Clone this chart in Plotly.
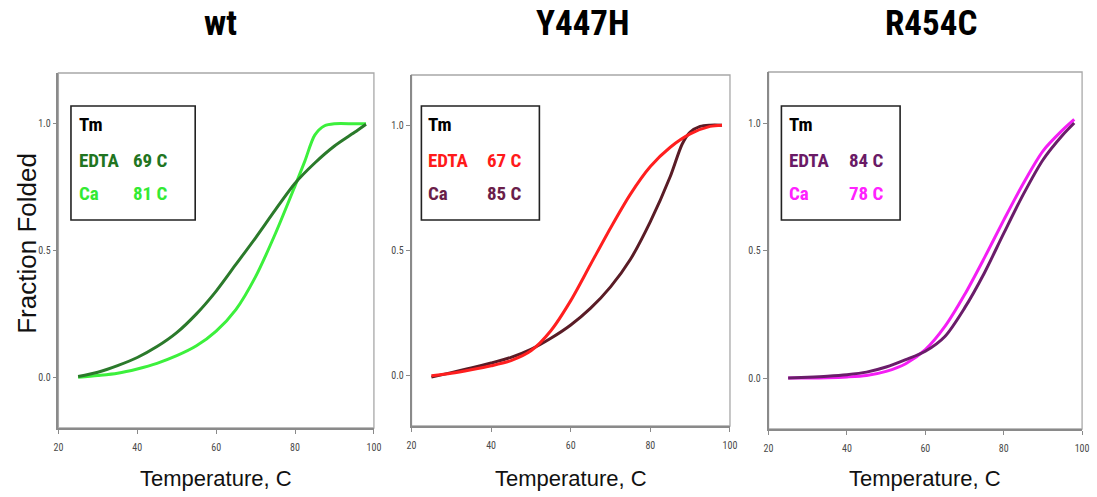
import plotly.graph_objects as go

# ---------------- data ----------------
panel_titles = ["wt", "Y447H", "R454C"]
x_tick_vals = [20, 40, 60, 80, 100]
x_tick_text = ["20", "40", "60", "80", "100"]
y_tick_vals = [0.0, 0.5, 1.0]
y_tick_text = ["0.0", "0.5", "1.0"]

# wt
wt_edta_T = [25, 30, 35, 40, 45, 50, 55, 60, 65, 70, 75, 80, 85, 90, 95, 98]
wt_edta = [0.003, 0.020, 0.046, 0.078, 0.121, 0.176, 0.250, 0.340, 0.445, 0.550, 0.660, 0.765,
           0.845, 0.912, 0.965, 0.998]
wt_ca_T = [25, 30, 35, 40, 45, 50, 55, 60, 65, 70, 75, 80, 82.5, 85, 87.5, 90, 95, 98]
wt_ca = [0.0, 0.007, 0.016, 0.033, 0.055, 0.085, 0.124, 0.182, 0.267, 0.397, 0.566, 0.755,
         0.853, 0.955, 0.992, 1.0, 1.0, 1.0]

# Y447H
y447_edta_T = [25, 30, 35, 40, 45, 50, 55, 60, 65, 70, 75, 80, 85, 90, 95, 98]
y447_edta = [0.0, 0.010, 0.024, 0.040, 0.061, 0.100, 0.180, 0.300, 0.445, 0.590, 0.725, 0.835,
             0.912, 0.965, 0.995, 1.0]
y447_ca_T = [25, 30, 35, 40, 45, 50, 55, 60, 65, 70, 75, 80, 85, 88, 90, 92.5, 95, 98]
y447_ca = [-0.005, 0.013, 0.031, 0.051, 0.074, 0.106, 0.150, 0.203, 0.270, 0.355, 0.465, 0.615,
           0.795, 0.925, 0.972, 0.995, 1.0, 1.0]

# R454C
r454_T = [25, 30, 35, 40, 45, 50, 55, 60, 65, 70, 75, 80, 85, 90, 95, 98]
r454_edta = [0.0, 0.003, 0.007, 0.013, 0.023, 0.043, 0.072, 0.105, 0.163, 0.274, 0.410, 0.567,
             0.720, 0.855, 0.952, 1.0]
r454_ca = [0.0, 0.0, 0.001, 0.004, 0.010, 0.026, 0.056, 0.111, 0.202, 0.326, 0.469, 0.619,
           0.763, 0.890, 0.972, 1.014]

legend_labels = ["EDTA", "Ca"]
tm_values = [["69 C", "81 C"], ["67 C", "85 C"], ["84 C", "78 C"]]

# ---------------- styles ----------------
W, H = 1097, 497
NARROW = "Liberation Sans Narrow, Arial Narrow, Roboto Condensed, Liberation Sans, Arial, sans-serif"
REG = "Liberation Sans, Arial, sans-serif"

edta_line = ["#2b7a2b", "#ff1f1f", "#6a1d6a"]
ca_line = ["#3cf03c", "#5a1c26", "#f41ef4"]
edta_text = ["#217521", "#ff1a1a", "#6a1a66"]
ca_text = ["#33ea33", "#6a1e4a", "#ff22ff"]

# panel pixel boxes: (left, right, top, bottom)
boxes = [(54, 373, 73, 428), (411, 733, 75, 426), (772, 1089, 72, 429)]
legend_boxes = [(66.7, 192.3, 106, 220), (421, 540.3, 106, 220), (785, 905, 106, 220)]
label_offsets = [6, 5, 6]
val_offsets = [61, 64, 66]
title_x = [218, 584, 936]


def px(x):
    return x / W


def py(y):
    return 1 - y / H


series = [
    ((wt_edta_T, wt_edta), (wt_ca_T, wt_ca)),
    ((y447_edta_T, y447_edta), (y447_ca_T, y447_ca)),
    ((r454_T, r454_edta), (r454_T, r454_ca)),
]

fig = go.Figure()
layout = dict(
    width=W, height=H, margin=dict(l=0, r=0, t=0, b=0),
    paper_bgcolor="white", plot_bgcolor="white", showlegend=False,
)
annotations = []
shapes = []

for i in range(3):
    sfx = "" if i == 0 else str(i + 1)
    xa, ya = "x" + sfx, "y" + sfx
    (eT, eV), (cT, cV) = series[i]
    fig.add_trace(go.Scatter(x=cT, y=cV, mode="lines", xaxis=xa, yaxis=ya,
                             line=dict(color=ca_line[i], width=3, shape="spline", smoothing=0.8)))
    fig.add_trace(go.Scatter(x=eT, y=eV, mode="lines", xaxis=xa, yaxis=ya,
                             line=dict(color=edta_line[i], width=3, shape="spline", smoothing=0.8)))
    l, r, t, b = boxes[i]
    # light frame (top / right)
    shapes.append(dict(type="rect", xref="paper", yref="paper", layer="below",
                       x0=px(l), x1=px(r), y0=py(b), y1=py(t),
                       line=dict(color="#a8a8a8", width=1.3)))
    axis_common = dict(showline=True, linecolor="#8a8a8a", linewidth=1.5, mirror=False,
                       showgrid=False, zeroline=False, ticks="outside", ticklen=4,
                       tickcolor="#8a8a8a", tickwidth=1,
                       tickfont=dict(family=NARROW, size=10, color="#4a4a4a"))
    layout["xaxis" + sfx] = dict(axis_common, domain=[px(l), px(r)], anchor=ya,
                                 range=[20, 100], tickvals=x_tick_vals, ticktext=x_tick_text,
                                 ticklabelstandoff=5)
    layout["yaxis" + sfx] = dict(axis_common, domain=[py(b), py(t)], anchor=xa,
                                 range=[-0.2, 1.2], tickvals=y_tick_vals, ticktext=y_tick_text)
    # title
    annotations.append(dict(text="<b>%s</b>" % panel_titles[i], x=px(title_x[i]), y=py(24),
                            xref="paper", yref="paper", showarrow=False,
                            xanchor="center", yanchor="middle",
                            font=dict(family=NARROW, size=35, color="black")))
    # x-axis title
    annotations.append(dict(text="Temperature, C", x=px((l + r) / 2), y=py(478),
                            xref="paper", yref="paper", showarrow=False,
                            xanchor="center", yanchor="middle",
                            font=dict(family=REG, size=22, color="#111")))
    # legend box
    bl, br, bt, bb = legend_boxes[i]
    shapes.append(dict(type="rect", xref="paper", yref="paper",
                       x0=px(bl), x1=px(br), y0=py(bb), y1=py(bt),
                       line=dict(color="#222", width=1.6), fillcolor="white"))
    rows = [("Tm", None, "black", 125), (legend_labels[0], tm_values[i][0], edta_text[i], 160),
            (legend_labels[1], tm_values[i][1], ca_text[i], 193)]
    for lab, val, col, yy in rows:
        annotations.append(dict(text="<b>%s</b>" % lab, x=px(bl + label_offsets[i]), y=py(yy),
                                xref="paper", yref="paper", showarrow=False,
                                xanchor="left", yanchor="middle",
                                font=dict(family=NARROW, size=19, color=col)))
        if val:
            annotations.append(dict(text="<b>%s</b>" % val, x=px(bl + val_offsets[i]), y=py(yy),
                                    xref="paper", yref="paper", showarrow=False,
                                    xanchor="left", yanchor="middle",
                                    font=dict(family=NARROW, size=19, color=col)))

annotations.append(dict(text="Fraction Folded", x=px(22), y=py(243), xref="paper", yref="paper",
                        showarrow=False, textangle=-90, xanchor="center", yanchor="middle",
                        font=dict(family=REG, size=26, color="#111")))

layout["annotations"] = annotations
layout["shapes"] = shapes
fig.update_layout(**layout)
fig.write_html("out.html")
